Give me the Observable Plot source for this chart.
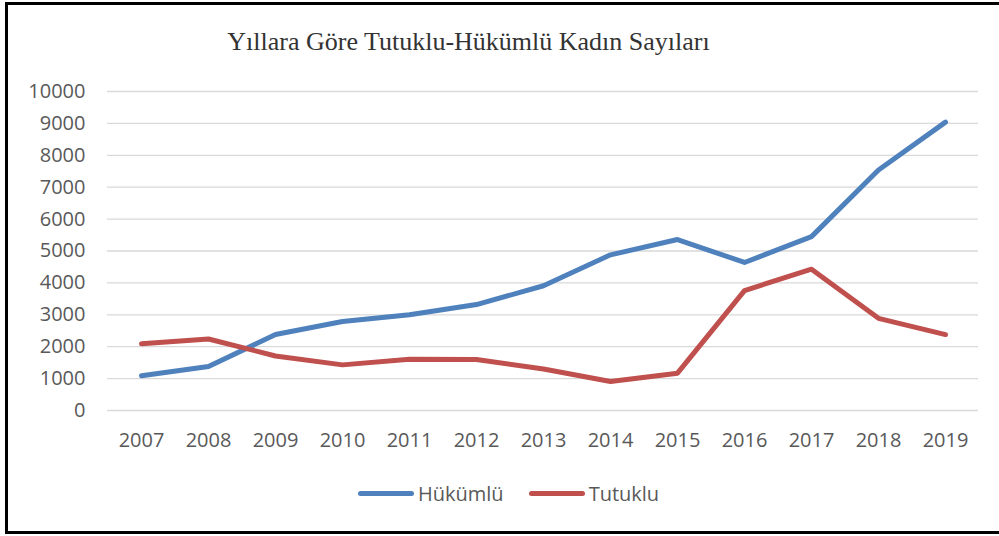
<!DOCTYPE html>
<html>
<head>
<meta charset="utf-8">
<script src="https://cdn.jsdelivr.net/npm/d3@7"></script>
<script src="https://cdn.jsdelivr.net/npm/@observablehq/plot@0.6"></script>
<style>
  html, body { margin: 0; padding: 0; background: #fff; }
  #wrap { position: relative; width: 999px; height: 536px; overflow: hidden; background: #fff; }
  #frame { position: absolute; left: 5px; top: 2px; width: 1000px; height: 526px; border: 3.5px solid #000; }
  #title { position: absolute; left: 0; top: 27px; width: 937px; text-align: center;
           font-family: "Liberation Serif", "Times New Roman", serif; font-size: 26px; color: #333; white-space: nowrap; }
  #chart { position: absolute; left: 0; top: 0; }
  #legend { position: absolute; top: 480px; left: 358px; font-family: "Open Sans", sans-serif; font-size: 20px; color: #595959;
            display: flex; align-items: center; white-space: nowrap; }
  .sw { display: inline-block; width: 56px; height: 5px; border-radius: 3px; margin-right: 4px; }
  .item { display: flex; align-items: center; margin-right: 25px; }
</style>
</head>
<body>
<div id="wrap">
  <div id="frame"></div>
  <div id="chart"></div>
  <div id="title">Yıllara Göre Tutuklu-Hükümlü Kadın Sayıları</div>
  <div id="legend"></div>
</div>
<script>
const years = ["2007","2008","2009","2010","2011","2012","2013","2014","2015","2016","2017","2018","2019"];
const hukumlu = [1090, 1380, 2380, 2790, 3000, 3320, 3910, 4880, 5360, 4640, 5450, 7540, 9040];
const tutuklu = [2090, 2240, 1710, 1430, 1610, 1600, 1300, 910, 1170, 3760, 4430, 2890, 2380];
const seriesNames = ["Hükümlü", "Tutuklu"];
const seriesColors = ["#4F81BD", "#C0504D"];
const yTicks = [0,1000,2000,3000,4000,5000,6000,7000,8000,9000,10000];

const rows = [];
years.forEach((y, i) => {
  rows.push({year: y, value: hukumlu[i], series: seriesNames[0]});
  rows.push({year: y, value: tutuklu[i], series: seriesNames[1]});
});

const font = "'Open Sans', sans-serif";
const chart = Plot.plot({
  width: 999,
  height: 536,
  marginLeft: 107,
  marginRight: 21,
  marginTop: 91,
  marginBottom: 126,
  style: {fontFamily: font, fontSize: "20px", color: "#595959", background: "transparent"},
  x: {type: "point", domain: years, padding: 0.5, label: null},
  y: {domain: [0, 10000], label: null},
  color: {domain: seriesNames, range: seriesColors},
  marks: [
    Plot.gridY(yTicks, {stroke: "#d9d9d9", strokeOpacity: 1, strokeWidth: 1.3}),
    Plot.axisY(yTicks, {tickSize: 0, tickPadding: 22, fill: "#595959", label: null, fontSize: 20, tickFormat: d => String(d)}),
    Plot.axisX({tickSize: 0, tickPadding: 22, fill: "#595959", label: null, fontSize: 20}),
    Plot.line(rows, {x: "year", y: "value", z: "series", stroke: "series", strokeWidth: 5,
                     strokeLinecap: "round", strokeLinejoin: "round"})
  ]
});
document.getElementById("chart").appendChild(chart);

const legend = document.getElementById("legend");
seriesNames.forEach((n, i) => {
  const it = document.createElement("span");
  it.className = "item";
  const sw = document.createElement("span");
  sw.className = "sw";
  sw.style.background = seriesColors[i];
  it.appendChild(sw);
  it.appendChild(document.createTextNode(n));
  legend.appendChild(it);
});
</script>
</body>
</html>
